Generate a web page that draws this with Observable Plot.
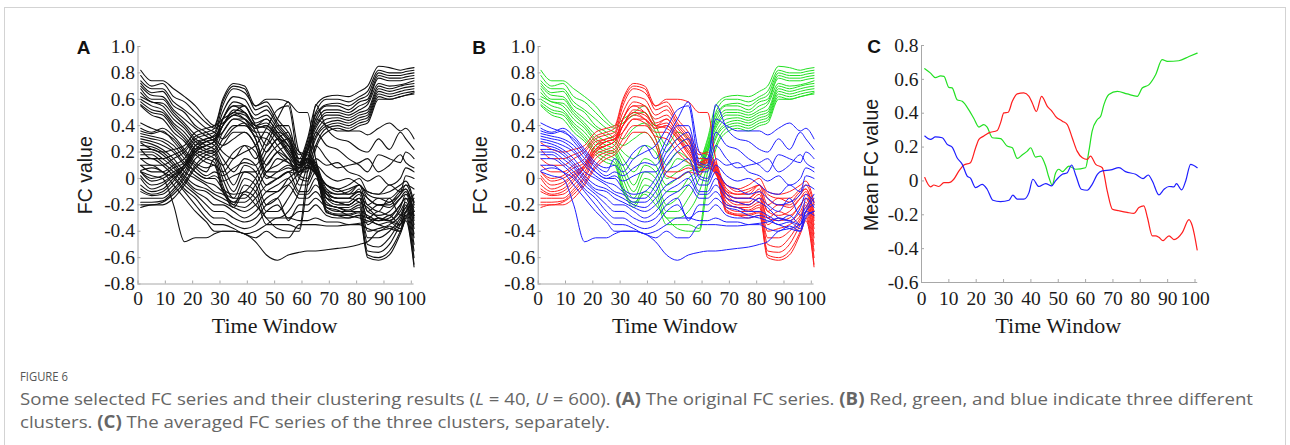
<!DOCTYPE html>
<html><head><meta charset="utf-8">
<script src="https://cdn.jsdelivr.net/npm/d3@7"></script>
<script src="https://cdn.jsdelivr.net/npm/@observablehq/plot@0.6"></script>
<style>
body{margin:0;background:#fff;width:1290px;height:445px;overflow:hidden;position:relative;font-family:"Open Sans",sans-serif}
#frame{position:absolute;left:4px;top:7px;width:1280px;height:480px;border:1px solid #d3d3d3;}
.panel{position:absolute;top:30px}
#fig{position:absolute;left:20px;top:368px;font-size:12.5px;color:#555;font-family:"Open Sans",sans-serif;transform-origin:0 0;transform:scaleX(0.9)}
#cap{position:absolute;left:20px;top:387px;font-size:17px;line-height:23px;color:#666;white-space:nowrap;font-family:"Open Sans",sans-serif;transform-origin:0 0}
</style></head><body>
<div id="frame"></div>
<div id="pA" class="panel" style="left:60px"></div>
<div id="pB" class="panel" style="left:460px"></div>
<div id="pC" class="panel" style="left:850px"></div>
<div id="fig">FIGURE 6</div>
<div id="cap"><span id="l1">Some selected FC series and their clustering results (<i>L</i> = 40, <i>U</i> = 600). <b>(A)</b> The original FC series. <b>(B)</b> Red, green, and blue indicate three different</span><br><span id="l2">clusters. <b>(C)</b> The averaged FC series of the three clusters, separately.</span></div>
<script>
// ---- data ----
const timeGrid = [1,5,9,13,17,21,25,28,31,35,39,43,47,51,55,59,62,65,69,73,77,81,84,88,92,96,98,101];

const greenSeries = [
 [0.82,0.74,0.74,0.68,0.62,0.55,0.45,0.40,0.45,0.50,0.55,0.40,0.25,0.35,0.30,0.15,0.30,0.55,0.62,0.63,0.62,0.66,0.70,0.85,0.84,0.82,0.83,0.84],
 [0.78,0.70,0.72,0.62,0.58,0.50,0.42,0.38,0.42,0.48,0.50,0.35,0.20,0.30,0.25,0.12,0.28,0.50,0.60,0.60,0.58,0.62,0.66,0.82,0.80,0.80,0.81,0.82],
 [0.74,0.68,0.68,0.58,0.52,0.45,0.38,0.35,0.30,0.38,0.42,0.30,0.10,0.20,0.15,0.10,0.25,0.48,0.56,0.57,0.55,0.60,0.63,0.80,0.78,0.78,0.79,0.80],
 [0.72,0.65,0.66,0.55,0.50,0.40,0.35,0.30,0.25,0.30,0.35,0.25,0.05,0.15,0.12,0.08,0.22,0.45,0.55,0.55,0.52,0.58,0.60,0.78,0.76,0.76,0.77,0.78],
 [0.70,0.63,0.62,0.52,0.45,0.38,0.32,0.28,0.20,0.15,0.25,0.20,0.00,0.05,0.10,0.05,0.20,0.42,0.52,0.52,0.50,0.55,0.58,0.76,0.74,0.74,0.75,0.76],
 [0.68,0.60,0.60,0.50,0.42,0.33,0.28,0.25,0.15,0.05,0.15,0.10,-0.05,0.00,0.05,0.10,0.25,0.40,0.50,0.50,0.48,0.52,0.56,0.72,0.70,0.71,0.72,0.74],
 [0.65,0.58,0.57,0.48,0.40,0.30,0.25,0.22,0.10,-0.05,0.10,0.05,-0.10,-0.10,0.00,0.08,0.22,0.38,0.48,0.48,0.46,0.50,0.52,0.70,0.68,0.70,0.71,0.72],
 [0.62,0.58,0.55,0.45,0.38,0.28,0.22,0.20,0.05,-0.10,0.05,0.00,-0.20,-0.15,-0.05,0.05,0.20,0.35,0.45,0.46,0.44,0.48,0.50,0.68,0.66,0.68,0.69,0.70],
 [0.60,0.55,0.52,0.42,0.35,0.25,0.20,0.18,0.00,-0.15,0.00,-0.05,-0.25,-0.25,-0.15,0.00,0.15,0.32,0.42,0.44,0.42,0.46,0.48,0.66,0.64,0.66,0.67,0.68],
 [0.58,0.52,0.50,0.40,0.32,0.22,0.18,0.15,-0.05,-0.20,-0.05,-0.10,-0.30,-0.30,-0.25,-0.10,0.10,0.30,0.40,0.42,0.40,0.44,0.46,0.64,0.62,0.64,0.65,0.66],
 [0.56,0.50,0.48,0.38,0.30,0.20,0.15,0.12,-0.08,-0.22,-0.10,-0.15,-0.35,-0.35,-0.35,-0.38,0.05,0.25,0.38,0.40,0.38,0.42,0.44,0.62,0.60,0.62,0.63,0.65],
 [0.55,0.48,0.45,0.35,0.28,0.18,0.12,0.10,-0.10,-0.18,-0.12,-0.20,-0.30,-0.38,-0.40,-0.40,-0.05,0.22,0.35,0.38,0.36,0.40,0.42,0.60,0.60,0.62,0.63,0.64]
];

const redSeries = [
 [0.27,0.22,0.20,0.22,0.25,0.35,0.38,0.40,0.60,0.72,0.70,0.55,0.58,0.45,0.35,0.20,0.18,0.12,-0.08,-0.12,-0.12,-0.05,-0.20,-0.15,-0.18,-0.10,-0.08,-0.28],
 [0.22,0.15,0.15,0.18,0.22,0.32,0.35,0.38,0.58,0.70,0.68,0.52,0.55,0.42,0.32,0.18,0.20,0.10,-0.10,-0.15,-0.15,-0.08,-0.25,-0.20,-0.22,-0.15,-0.12,-0.32],
 [0.15,0.10,0.10,0.15,0.20,0.30,0.33,0.35,0.55,0.68,0.65,0.55,0.60,0.60,0.58,0.50,0.50,0.15,-0.12,-0.18,-0.18,-0.12,-0.30,-0.25,-0.28,-0.20,-0.15,-0.38],
 [0.10,0.05,0.05,0.10,0.15,0.28,0.30,0.33,0.50,0.62,0.60,0.48,0.52,0.40,0.30,0.15,0.15,0.10,-0.15,-0.20,-0.20,-0.15,-0.35,-0.30,-0.32,-0.25,-0.18,-0.42],
 [0.05,0.00,0.02,0.08,0.12,0.25,0.28,0.30,0.45,0.58,0.55,0.45,0.48,0.38,0.28,0.12,0.15,0.08,-0.18,-0.22,-0.22,-0.18,-0.40,-0.38,-0.35,-0.28,-0.20,-0.45],
 [0.05,-0.02,0.00,0.05,0.10,0.22,0.28,0.30,0.45,0.55,0.55,0.42,0.45,0.35,0.25,0.10,0.15,0.08,-0.20,-0.22,-0.24,-0.20,-0.45,-0.45,-0.40,-0.30,-0.22,-0.50],
 [0.02,-0.05,-0.03,0.03,0.10,0.22,0.25,0.28,0.40,0.52,0.50,0.40,0.45,0.35,0.25,0.12,0.14,0.07,-0.22,-0.25,-0.25,-0.22,-0.50,-0.52,-0.45,-0.32,-0.25,-0.55],
 [0.00,-0.08,-0.05,0.02,0.08,0.20,0.25,0.28,0.40,0.50,0.48,0.40,0.42,0.33,0.22,0.12,0.14,0.06,-0.24,-0.27,-0.27,-0.25,-0.55,-0.56,-0.50,-0.35,-0.28,-0.60],
 [-0.05,-0.10,-0.08,0.00,0.08,0.22,0.28,0.30,0.35,0.45,0.45,0.38,0.40,0.32,0.20,0.10,0.13,0.06,-0.25,-0.28,-0.28,-0.26,-0.58,-0.60,-0.55,-0.40,-0.30,-0.65],
 [-0.08,-0.12,-0.10,-0.02,0.10,0.25,0.30,0.32,0.40,0.48,0.45,0.38,0.40,0.30,0.20,0.10,0.12,0.05,-0.26,-0.28,-0.30,-0.28,-0.60,-0.62,-0.58,-0.42,-0.32,-0.67],
 [-0.10,-0.13,-0.12,-0.05,0.05,0.20,0.25,0.28,0.45,0.55,0.50,0.40,0.38,0.30,0.18,0.08,0.12,0.05,-0.15,-0.18,-0.20,-0.15,-0.30,-0.32,-0.30,-0.20,-0.15,-0.35],
 [-0.15,-0.15,-0.15,-0.08,0.02,0.18,0.22,0.25,0.40,0.50,0.45,0.35,0.35,0.25,0.15,0.05,0.10,0.04,-0.12,-0.15,-0.15,-0.10,-0.25,-0.28,-0.25,-0.15,-0.10,-0.30],
 [-0.18,-0.18,-0.17,-0.10,0.00,0.15,0.20,0.22,0.35,0.45,0.42,0.32,0.30,0.20,0.12,0.05,0.10,0.03,-0.10,-0.12,-0.10,-0.05,-0.15,-0.20,-0.20,-0.12,-0.08,-0.25],
 [-0.20,-0.20,-0.18,-0.12,-0.03,0.10,0.18,0.20,0.30,0.40,0.40,0.30,0.05,0.05,0.08,0.05,0.08,0.05,-0.05,-0.10,-0.08,-0.05,-0.12,-0.15,-0.15,-0.08,-0.05,-0.20],
 [-0.22,-0.20,-0.20,-0.15,-0.05,0.08,0.15,0.18,0.25,0.35,0.35,0.25,0.02,0.00,0.05,0.03,0.08,0.04,-0.05,-0.08,-0.05,0.00,-0.10,-0.12,-0.10,-0.05,-0.02,-0.18]
];

const blueSeries = [
 [0.42,0.38,0.35,0.30,0.20,0.10,0.05,0.15,0.10,0.20,0.25,0.15,0.30,0.45,0.58,0.20,0.15,0.45,0.40,0.36,0.36,0.36,0.33,0.38,0.42,0.36,0.38,0.30],
 [0.38,0.35,0.38,0.32,0.22,0.12,0.08,0.10,0.05,0.15,0.20,0.25,0.38,0.52,0.55,0.12,0.10,0.56,0.38,0.30,0.28,0.22,0.20,0.30,0.22,0.35,0.30,0.22],
 [0.36,0.34,0.36,0.28,0.18,0.08,0.02,0.05,0.02,0.08,0.12,0.10,0.25,0.40,0.40,0.10,0.08,0.35,0.25,0.22,0.15,0.10,0.05,0.18,0.15,0.12,0.20,0.15],
 [0.34,0.32,0.30,0.25,0.15,0.05,0.00,0.02,-0.02,0.02,0.05,0.05,0.20,0.30,0.35,0.05,0.05,0.25,0.15,0.08,0.10,0.12,0.15,0.05,0.10,0.18,0.12,0.08],
 [0.32,0.30,0.28,0.22,0.12,0.05,0.00,0.00,-0.08,-0.12,-0.10,0.00,0.15,0.25,0.30,0.02,0.00,0.15,0.10,0.12,0.05,0.02,-0.02,0.02,-0.05,0.00,0.08,0.05],
 [0.30,0.28,0.25,0.20,0.10,0.02,-0.03,-0.05,-0.10,-0.15,-0.15,-0.05,0.10,0.20,0.25,0.00,-0.02,0.10,0.02,-0.02,0.00,-0.05,-0.10,-0.12,-0.05,-0.10,0.02,0.00],
 [0.28,0.26,0.22,0.15,0.05,0.00,-0.05,-0.10,-0.12,-0.18,-0.18,-0.10,0.05,0.10,0.15,-0.05,-0.05,0.05,-0.05,-0.08,-0.12,-0.10,-0.15,-0.20,-0.18,-0.12,-0.05,-0.08],
 [0.25,0.24,0.20,0.12,0.02,-0.05,-0.08,-0.12,-0.15,-0.20,-0.22,-0.15,-0.05,0.00,0.05,-0.10,-0.10,0.00,-0.12,-0.15,-0.15,-0.18,-0.22,-0.30,-0.32,-0.22,-0.12,-0.18],
 [0.22,0.22,0.18,0.10,0.00,-0.08,-0.10,-0.15,-0.18,-0.22,-0.25,-0.20,-0.10,-0.05,0.00,-0.12,-0.12,-0.05,-0.15,-0.18,-0.20,-0.15,-0.20,-0.25,-0.15,-0.28,-0.22,-0.12],
 [0.20,0.20,0.15,0.08,-0.02,-0.10,-0.15,-0.20,-0.20,-0.25,-0.30,-0.25,-0.15,-0.10,-0.05,-0.15,-0.15,-0.10,-0.20,-0.22,-0.25,-0.25,-0.28,-0.32,-0.28,-0.35,-0.15,-0.22],
 [0.18,0.18,0.12,0.05,-0.05,-0.12,-0.20,-0.25,-0.25,-0.30,-0.33,-0.30,-0.20,-0.15,-0.32,-0.20,-0.20,-0.15,-0.22,-0.24,-0.28,-0.30,-0.32,-0.35,-0.38,-0.40,-0.30,-0.25],
 [0.15,0.15,0.10,0.02,-0.08,-0.15,-0.25,-0.30,-0.30,-0.35,-0.38,-0.35,-0.25,-0.20,-0.30,-0.25,-0.25,-0.20,-0.28,-0.30,-0.30,-0.28,-0.30,-0.35,-0.33,-0.38,-0.25,-0.28],
 [0.10,0.10,0.05,0.00,-0.10,-0.20,-0.30,-0.35,-0.35,-0.38,-0.42,-0.40,-0.35,-0.30,-0.30,-0.32,-0.32,-0.30,-0.33,-0.33,-0.35,-0.35,-0.38,-0.40,-0.36,-0.40,-0.28,-0.25],
 [0.06,0.08,0.05,-0.05,-0.15,-0.25,-0.33,-0.40,-0.40,-0.40,-0.42,-0.45,-0.40,-0.45,-0.45,-0.35,-0.35,-0.35,-0.36,-0.36,-0.35,-0.34,-0.33,-0.30,-0.32,-0.35,-0.25,-0.20],
 [0.05,0.02,0.00,-0.20,-0.48,-0.45,-0.45,-0.42,-0.40,-0.40,-0.42,-0.48,-0.58,-0.62,-0.58,-0.56,-0.55,-0.55,-0.54,-0.53,-0.52,-0.50,-0.48,-0.40,-0.38,-0.35,-0.25,-0.15]
];

const greenMeanT = [1.2,3.3,5.1,7,8.2,10,11.2,13,14.9,17.3,19.1,21,22.8,24,25.9,28.9,31.3,33.2,35,36.8,38.7,39.9,41.7,43.5,45.4,46.6,47.8,49,50.2,51.5,53.9,56.3,60,61.2,62.4,64.3,65.5,66.7,68.5,71.6,75.2,78.9,80.7,83.2,85.6,88,89.9,94.1,97.8,100.8];
const greenMeanV = [0.663,0.637,0.61,0.62,0.618,0.553,0.55,0.48,0.47,0.42,0.37,0.318,0.333,0.318,0.255,0.25,0.206,0.196,0.133,0.153,0.176,0.196,0.141,0.147,0.088,0.02,-0.024,0.045,0.069,0.055,0.088,0.069,0.078,0.176,0.294,0.363,0.382,0.451,0.51,0.529,0.514,0.5,0.549,0.569,0.627,0.716,0.706,0.71,0.735,0.755];
const redMeanT = [1.2,3.3,4.5,6.3,8.2,10,11.8,13.7,15.5,17.9,19.8,21,22.8,24.6,27.7,28.9,30.1,31.7,33.2,35,37.4,39.3,40.5,42,43.9,46,47.8,49,51.5,53.3,55.1,56.9,58.8,60.6,61.8,63.7,66.1,67.9,69.8,72.2,75.2,77.7,79.5,81.3,82.6,84.4,85.6,86.8,88.3,90.5,92.3,95.4,97.8,99,100.8];
const redMeanV = [0.02,-0.035,-0.024,-0.033,-0.01,-0.01,0.01,0.059,0.094,0.108,0.196,0.245,0.265,0.284,0.298,0.343,0.402,0.406,0.47,0.514,0.52,0.5,0.461,0.41,0.5,0.441,0.41,0.382,0.353,0.333,0.255,0.176,0.137,0.127,0.147,0.098,0.078,-0.059,-0.167,-0.176,-0.186,-0.192,-0.157,-0.147,-0.216,-0.324,-0.324,-0.333,-0.353,-0.324,-0.347,-0.304,-0.229,-0.265,-0.408];
const blueMeanT = [1.2,3.3,5.1,7.6,9.4,11.2,13,14.9,16.7,17.9,19.8,22.2,24,26.1,28.9,32,33.4,35,37.4,39.3,40.7,42.9,45.4,47.6,49,51.5,53.3,54.9,56.5,58.4,60.6,62.4,64.3,66.1,69.2,72.2,74.6,78.3,81,82.9,84.4,86.8,88.7,90.5,92.3,93.2,95.1,96.6,98.4,100.8];
const blueMeanV = [0.265,0.245,0.26,0.255,0.216,0.2,0.137,0.098,0.029,0.016,-0.039,-0.02,-0.049,-0.114,-0.122,-0.114,-0.084,-0.108,-0.108,-0.069,0.01,-0.033,-0.016,-0.029,0.0,0.039,0.049,0.094,0.029,-0.049,-0.055,-0.02,0.039,0.059,0.065,0.078,0.055,0.039,0.014,0.035,0.0,-0.082,-0.049,-0.033,-0.035,-0.016,-0.053,0.0,0.098,0.078];

const xTicks = [0,10,20,30,40,50,60,70,80,90,100];
const yTicksAB = [1.0,0.8,0.6,0.4,0.2,0,-0.2,-0.4,-0.6,-0.8];
const yTicksC = [0.8,0.6,0.4,0.2,0,-0.2,-0.4,-0.6];
const clusterColors = {green: "#22e022", red: "#ff1e1e", blue: "#1e1eff"};

// ---- build rows ----
function rows(series, cluster) {
  return series.flatMap((s, i) => s.map((v, j) => ({t: timeGrid[j], v, id: cluster + i, cluster})));
}
const allRows = [...rows(greenSeries, "green"), ...rows(redSeries, "red"), ...rows(blueSeries, "blue")];
function meanRows(T, V, cluster) { return T.map((t, i) => ({t, v: V[i], cluster})); }

const SERIF = "Liberation Serif, Times New Roman, serif";
const SANS = "Liberation Sans, Arial, sans-serif";
const fmt = d => d === 0 ? "0" : d.toFixed(1);

function panel(opts) {
  const {yDomain, yTicks, ylabel, letter, letterDx, labelDx, labelDy, ml, mr, mt, mb, lineMarks, xLabDy, twDy} = opts;
  const pxPerUnitY = (310 - mt - mb) / (yDomain[1] - yDomain[0]);
  const tickLenY = 3 / pxPerUnitY;
  const pxPerUnitX = (370 - ml - mr) / 100;
  const tickLenX = 3 / pxPerUnitX;
  return Plot.plot({
    width: 370, height: 310,
    marginLeft: ml, marginRight: mr, marginTop: mt, marginBottom: mb,
    x: {domain: [0, 100], axis: null},
    y: {domain: yDomain, axis: null},
    style: {background: "transparent", overflow: "visible"},
    marks: [
      ...lineMarks,
      Plot.ruleX([0], {stroke: "#a8a8a8", strokeWidth: 1}),
      Plot.ruleY([yDomain[0]], {x1: 0, x2: 101, stroke: "#a8a8a8", strokeWidth: 1}),
      Plot.ruleY(yTicks, {y: d => d, x1: 0, x2: tickLenX, stroke: "#a8a8a8"}),
      Plot.ruleX(xTicks, {x: d => d, y1: yDomain[0], y2: yDomain[0] + tickLenY, stroke: "#a8a8a8"}),
      Plot.text(yTicks, {x: () => 0, y: d => d, text: fmt, textAnchor: "end", dx: -3, fontFamily: SERIF, fontSize: 19.5, fill: "#1a1a1a"}),
      Plot.text(xTicks, {x: d => d, y: () => yDomain[0], text: d => String(d), dy: xLabDy, fontFamily: SERIF, fontSize: 19.5, fill: "#1a1a1a"}),
      Plot.text([ylabel], {frameAnchor: "left", textAnchor: "middle", lineAnchor: "middle", dx: labelDx, dy: labelDy, rotate: -90, fontFamily: SANS, fontSize: 19.5, fill: "#1a1a1a"}),
      Plot.text(["Time Window"], {frameAnchor: "bottom", textAnchor: "middle", lineAnchor: "middle", dy: twDy, fontFamily: SERIF, fontSize: 22, fill: "#1a1a1a"}),
      Plot.text([letter], {frameAnchor: "top-left", textAnchor: "middle", lineAnchor: "middle", dx: letterDx, dy: 1, fontFamily: SANS, fontWeight: "bold", fontSize: 19, fill: "#111"})
    ]
  });
}

const common = {yDomain: [-0.8, 1.0], yTicks: yTicksAB, ylabel: "FC value", mt: 16, mb: 56.5, mr: 19.2, xLabDy: 15, twDy: 42};

document.getElementById("pA").append(panel({...common, ml: 77.5, letter: "A", letterDx: -54.5, labelDx: -52.5, labelDy: 10,
  lineMarks: [Plot.line(allRows, {x: "t", y: "v", z: "id", stroke: "#111", strokeWidth: 1.1, curve: "monotone-x"})]}));

document.getElementById("pB").append(panel({...common, ml: 77.7, letter: "B", letterDx: -59, labelDx: -57.5, labelDy: 10,
  lineMarks: ["green", "red", "blue"].map(c => Plot.line(allRows.filter(r => r.cluster === c), {x: "t", y: "v", z: "id", stroke: clusterColors[c], strokeWidth: 1, curve: "monotone-x"}))}));

document.getElementById("pC").append(panel({yDomain: [-0.6, 0.8], yTicks: yTicksC, ylabel: "Mean FC value", ml: 71, mr: 25.5, mt: 15, mb: 58,
  letter: "C", letterDx: -47.5, labelDx: -50, labelDy: 1, xLabDy: 16, twDy: 43,
  lineMarks: [
    Plot.line(meanRows(greenMeanT, greenMeanV, "green"), {x: "t", y: "v", stroke: clusterColors.green, strokeWidth: 1.2, curve: "monotone-x"}),
    Plot.line(meanRows(redMeanT, redMeanV, "red"), {x: "t", y: "v", stroke: clusterColors.red, strokeWidth: 1.2, curve: "monotone-x"}),
    Plot.line(meanRows(blueMeanT, blueMeanV, "blue"), {x: "t", y: "v", stroke: clusterColors.blue, strokeWidth: 1.2, curve: "monotone-x"})
  ]}));

// fit caption first line to reference width by horizontal scaling
const l1 = document.getElementById("l1");
const w = l1.getBoundingClientRect().width;
document.getElementById("cap").style.transform = "scaleX(" + (1233 / w).toFixed(4) + ")";
</script>
</body></html>
